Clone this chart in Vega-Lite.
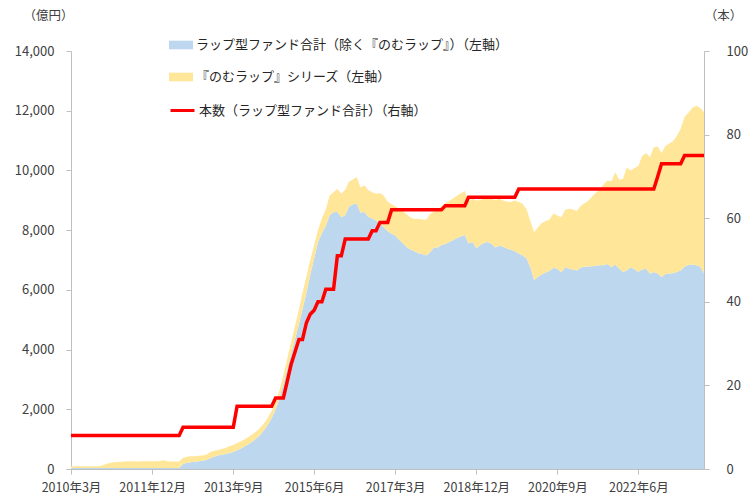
{
  "$schema": "https://vega.github.io/schema/vega-lite/v6.json",
  "description": "ラップ型ファンドの残高と本数の推移",
  "width": 633,
  "height": 418,
  "autosize": "none",
  "padding": {"left": 71, "top": 51, "right": 46, "bottom": 31},
  "config": {
    "font": "Noto Sans CJK JP",
    "view": {"stroke": null},
    "axis": {
      "grid": false,
      "domainColor": "#BFBFBF",
      "tickColor": "#BFBFBF",
      "labelColor": "#404040",
      "titleColor": "#404040",
      "labelFontSize": 13,
      "titleFontSize": 12.5,
      "titleFontWeight": "normal",
      "tickSize": 5
    },
    "legend": {"labelColor": "#262626", "labelFontSize": 13, "labelLimit": 600, "padding": 0}
  },
  "data": {
    "values": [
      {"d": "2010-03-01", "other": 30, "nomu": 60, "c": 8},
      {"d": "2010-04-01", "other": 30, "nomu": 60, "c": 8},
      {"d": "2010-05-01", "other": 30, "nomu": 60, "c": 8},
      {"d": "2010-06-01", "other": 30, "nomu": 60, "c": 8},
      {"d": "2010-07-01", "other": 30, "nomu": 60, "c": 8},
      {"d": "2010-08-01", "other": 30, "nomu": 60, "c": 8},
      {"d": "2010-09-01", "other": 30, "nomu": 60, "c": 8},
      {"d": "2010-10-01", "other": 30, "nomu": 65, "c": 8},
      {"d": "2010-11-01", "other": 30, "nomu": 90, "c": 8},
      {"d": "2010-12-01", "other": 30, "nomu": 140, "c": 8},
      {"d": "2011-01-01", "other": 30, "nomu": 170, "c": 8},
      {"d": "2011-02-01", "other": 30, "nomu": 195, "c": 8},
      {"d": "2011-03-01", "other": 30, "nomu": 205, "c": 8},
      {"d": "2011-04-01", "other": 30, "nomu": 215, "c": 8},
      {"d": "2011-05-01", "other": 30, "nomu": 220, "c": 8},
      {"d": "2011-06-01", "other": 30, "nomu": 230, "c": 8},
      {"d": "2011-07-01", "other": 30, "nomu": 230, "c": 8},
      {"d": "2011-08-01", "other": 30, "nomu": 225, "c": 8},
      {"d": "2011-09-01", "other": 30, "nomu": 230, "c": 8},
      {"d": "2011-10-01", "other": 30, "nomu": 230, "c": 8},
      {"d": "2011-11-01", "other": 30, "nomu": 228, "c": 8},
      {"d": "2011-12-01", "other": 30, "nomu": 232, "c": 8},
      {"d": "2012-01-01", "other": 30, "nomu": 230, "c": 8},
      {"d": "2012-02-01", "other": 30, "nomu": 235, "c": 8},
      {"d": "2012-03-01", "other": 30, "nomu": 260, "c": 8},
      {"d": "2012-04-01", "other": 30, "nomu": 230, "c": 8},
      {"d": "2012-05-01", "other": 30, "nomu": 220, "c": 8},
      {"d": "2012-06-01", "other": 30, "nomu": 220, "c": 8},
      {"d": "2012-07-01", "other": 30, "nomu": 220, "c": 8},
      {"d": "2012-08-01", "other": 170, "nomu": 205, "c": 10},
      {"d": "2012-09-01", "other": 210, "nomu": 200, "c": 10},
      {"d": "2012-10-01", "other": 230, "nomu": 195, "c": 10},
      {"d": "2012-11-01", "other": 240, "nomu": 190, "c": 10},
      {"d": "2012-12-01", "other": 260, "nomu": 180, "c": 10},
      {"d": "2013-01-01", "other": 280, "nomu": 170, "c": 10},
      {"d": "2013-02-01", "other": 300, "nomu": 180, "c": 10},
      {"d": "2013-03-01", "other": 360, "nomu": 200, "c": 10},
      {"d": "2013-04-01", "other": 410, "nomu": 200, "c": 10},
      {"d": "2013-05-01", "other": 450, "nomu": 190, "c": 10},
      {"d": "2013-06-01", "other": 480, "nomu": 190, "c": 10},
      {"d": "2013-07-01", "other": 505, "nomu": 195, "c": 10},
      {"d": "2013-08-01", "other": 540, "nomu": 220, "c": 10},
      {"d": "2013-09-01", "other": 570, "nomu": 230, "c": 10},
      {"d": "2013-10-01", "other": 630, "nomu": 240, "c": 15},
      {"d": "2013-11-01", "other": 690, "nomu": 240, "c": 15},
      {"d": "2013-12-01", "other": 760, "nomu": 240, "c": 15},
      {"d": "2014-01-01", "other": 840, "nomu": 240, "c": 15},
      {"d": "2014-02-01", "other": 920, "nomu": 240, "c": 15},
      {"d": "2014-03-01", "other": 1020, "nomu": 240, "c": 15},
      {"d": "2014-04-01", "other": 1140, "nomu": 240, "c": 15},
      {"d": "2014-05-01", "other": 1300, "nomu": 220, "c": 15},
      {"d": "2014-06-01", "other": 1480, "nomu": 240, "c": 15},
      {"d": "2014-07-01", "other": 1700, "nomu": 250, "c": 15},
      {"d": "2014-08-01", "other": 2000, "nomu": 250, "c": 17},
      {"d": "2014-09-01", "other": 2380, "nomu": 270, "c": 17},
      {"d": "2014-10-01", "other": 2850, "nomu": 300, "c": 17},
      {"d": "2014-11-01", "other": 3350, "nomu": 350, "c": 21},
      {"d": "2014-12-01", "other": 3850, "nomu": 400, "c": 25},
      {"d": "2015-01-01", "other": 4350, "nomu": 450, "c": 28},
      {"d": "2015-02-01", "other": 4850, "nomu": 500, "c": 31},
      {"d": "2015-03-01", "other": 5350, "nomu": 550, "c": 31},
      {"d": "2015-04-01", "other": 5900, "nomu": 550, "c": 35},
      {"d": "2015-05-01", "other": 6500, "nomu": 500, "c": 37},
      {"d": "2015-06-01", "other": 7050, "nomu": 450, "c": 38},
      {"d": "2015-07-01", "other": 7600, "nomu": 400, "c": 40},
      {"d": "2015-08-01", "other": 7900, "nomu": 500, "c": 40},
      {"d": "2015-09-01", "other": 8150, "nomu": 550, "c": 43},
      {"d": "2015-10-01", "other": 8500, "nomu": 650, "c": 43},
      {"d": "2015-11-01", "other": 8600, "nomu": 680, "c": 43},
      {"d": "2015-12-01", "other": 8620, "nomu": 760, "c": 51},
      {"d": "2016-01-01", "other": 8430, "nomu": 790, "c": 51},
      {"d": "2016-02-01", "other": 8500, "nomu": 850, "c": 55},
      {"d": "2016-03-01", "other": 8780, "nomu": 840, "c": 55},
      {"d": "2016-04-01", "other": 8870, "nomu": 830, "c": 55},
      {"d": "2016-05-01", "other": 8890, "nomu": 890, "c": 55},
      {"d": "2016-06-01", "other": 8580, "nomu": 850, "c": 55},
      {"d": "2016-07-01", "other": 8610, "nomu": 890, "c": 55},
      {"d": "2016-08-01", "other": 8440, "nomu": 900, "c": 55},
      {"d": "2016-09-01", "other": 8390, "nomu": 880, "c": 57},
      {"d": "2016-10-01", "other": 8320, "nomu": 900, "c": 57},
      {"d": "2016-11-01", "other": 8220, "nomu": 1020, "c": 59},
      {"d": "2016-12-01", "other": 8100, "nomu": 1050, "c": 59},
      {"d": "2017-01-01", "other": 7960, "nomu": 990, "c": 59},
      {"d": "2017-02-01", "other": 7880, "nomu": 990, "c": 62},
      {"d": "2017-03-01", "other": 7820, "nomu": 980, "c": 62},
      {"d": "2017-04-01", "other": 7680, "nomu": 1040, "c": 62},
      {"d": "2017-05-01", "other": 7560, "nomu": 1080, "c": 62},
      {"d": "2017-06-01", "other": 7430, "nomu": 1090, "c": 62},
      {"d": "2017-07-01", "other": 7350, "nomu": 1070, "c": 62},
      {"d": "2017-08-01", "other": 7290, "nomu": 1080, "c": 62},
      {"d": "2017-09-01", "other": 7230, "nomu": 1150, "c": 62},
      {"d": "2017-10-01", "other": 7200, "nomu": 1160, "c": 62},
      {"d": "2017-11-01", "other": 7150, "nomu": 1200, "c": 62},
      {"d": "2017-12-01", "other": 7260, "nomu": 1280, "c": 62},
      {"d": "2018-01-01", "other": 7420, "nomu": 1200, "c": 62},
      {"d": "2018-02-01", "other": 7420, "nomu": 1260, "c": 62},
      {"d": "2018-03-01", "other": 7500, "nomu": 1300, "c": 62},
      {"d": "2018-04-01", "other": 7540, "nomu": 1360, "c": 63},
      {"d": "2018-05-01", "other": 7600, "nomu": 1380, "c": 63},
      {"d": "2018-06-01", "other": 7660, "nomu": 1400, "c": 63},
      {"d": "2018-07-01", "other": 7740, "nomu": 1410, "c": 63},
      {"d": "2018-08-01", "other": 7790, "nomu": 1440, "c": 63},
      {"d": "2018-09-01", "other": 7840, "nomu": 1470, "c": 63},
      {"d": "2018-10-01", "other": 7550, "nomu": 1400, "c": 65},
      {"d": "2018-11-01", "other": 7600, "nomu": 1450, "c": 65},
      {"d": "2018-12-01", "other": 7390, "nomu": 1600, "c": 65},
      {"d": "2019-01-01", "other": 7490, "nomu": 1520, "c": 65},
      {"d": "2019-02-01", "other": 7580, "nomu": 1480, "c": 65},
      {"d": "2019-03-01", "other": 7600, "nomu": 1510, "c": 65},
      {"d": "2019-04-01", "other": 7540, "nomu": 1510, "c": 65},
      {"d": "2019-05-01", "other": 7420, "nomu": 1580, "c": 65},
      {"d": "2019-06-01", "other": 7480, "nomu": 1570, "c": 65},
      {"d": "2019-07-01", "other": 7440, "nomu": 1550, "c": 65},
      {"d": "2019-08-01", "other": 7380, "nomu": 1570, "c": 65},
      {"d": "2019-09-01", "other": 7340, "nomu": 1600, "c": 65},
      {"d": "2019-10-01", "other": 7290, "nomu": 1700, "c": 65},
      {"d": "2019-11-01", "other": 7220, "nomu": 1720, "c": 67},
      {"d": "2019-12-01", "other": 7150, "nomu": 1730, "c": 67},
      {"d": "2020-01-01", "other": 7060, "nomu": 1640, "c": 67},
      {"d": "2020-02-01", "other": 6750, "nomu": 1550, "c": 67},
      {"d": "2020-03-01", "other": 6320, "nomu": 1610, "c": 67},
      {"d": "2020-04-01", "other": 6440, "nomu": 1660, "c": 67},
      {"d": "2020-05-01", "other": 6520, "nomu": 1720, "c": 67},
      {"d": "2020-06-01", "other": 6580, "nomu": 1730, "c": 67},
      {"d": "2020-07-01", "other": 6640, "nomu": 1720, "c": 67},
      {"d": "2020-08-01", "other": 6740, "nomu": 1820, "c": 67},
      {"d": "2020-09-01", "other": 6700, "nomu": 1790, "c": 67},
      {"d": "2020-10-01", "other": 6590, "nomu": 1840, "c": 67},
      {"d": "2020-11-01", "other": 6760, "nomu": 1920, "c": 67},
      {"d": "2020-12-01", "other": 6710, "nomu": 2010, "c": 67},
      {"d": "2021-01-01", "other": 6680, "nomu": 2010, "c": 67},
      {"d": "2021-02-01", "other": 6650, "nomu": 1990, "c": 67},
      {"d": "2021-03-01", "other": 6740, "nomu": 2060, "c": 67},
      {"d": "2021-04-01", "other": 6770, "nomu": 2130, "c": 67},
      {"d": "2021-05-01", "other": 6780, "nomu": 2200, "c": 67},
      {"d": "2021-06-01", "other": 6790, "nomu": 2330, "c": 67},
      {"d": "2021-07-01", "other": 6810, "nomu": 2440, "c": 67},
      {"d": "2021-08-01", "other": 6820, "nomu": 2560, "c": 67},
      {"d": "2021-09-01", "other": 6820, "nomu": 2720, "c": 67},
      {"d": "2021-10-01", "other": 6870, "nomu": 2790, "c": 67},
      {"d": "2021-11-01", "other": 6760, "nomu": 2880, "c": 67},
      {"d": "2021-12-01", "other": 6850, "nomu": 3090, "c": 67},
      {"d": "2022-01-01", "other": 6710, "nomu": 2980, "c": 67},
      {"d": "2022-02-01", "other": 6600, "nomu": 3120, "c": 67},
      {"d": "2022-03-01", "other": 6650, "nomu": 3450, "c": 67},
      {"d": "2022-04-01", "other": 6760, "nomu": 3240, "c": 67},
      {"d": "2022-05-01", "other": 6690, "nomu": 3390, "c": 67},
      {"d": "2022-06-01", "other": 6610, "nomu": 3540, "c": 67},
      {"d": "2022-07-01", "other": 6680, "nomu": 3800, "c": 67},
      {"d": "2022-08-01", "other": 6710, "nomu": 3870, "c": 67},
      {"d": "2022-09-01", "other": 6540, "nomu": 3900, "c": 67},
      {"d": "2022-10-01", "other": 6600, "nomu": 4180, "c": 67},
      {"d": "2022-11-01", "other": 6550, "nomu": 4250, "c": 70},
      {"d": "2022-12-01", "other": 6430, "nomu": 4150, "c": 73},
      {"d": "2023-01-01", "other": 6530, "nomu": 4300, "c": 73},
      {"d": "2023-02-01", "other": 6550, "nomu": 4350, "c": 73},
      {"d": "2023-03-01", "other": 6560, "nomu": 4420, "c": 73},
      {"d": "2023-04-01", "other": 6600, "nomu": 4550, "c": 73},
      {"d": "2023-05-01", "other": 6650, "nomu": 4750, "c": 73},
      {"d": "2023-06-01", "other": 6780, "nomu": 5020, "c": 75},
      {"d": "2023-07-01", "other": 6830, "nomu": 5090, "c": 75},
      {"d": "2023-08-01", "other": 6850, "nomu": 5250, "c": 75},
      {"d": "2023-09-01", "other": 6820, "nomu": 5350, "c": 75},
      {"d": "2023-10-01", "other": 6780, "nomu": 5320, "c": 75},
      {"d": "2023-11-01", "other": 6560, "nomu": 5390, "c": 75}
    ]
  },
  "layer": [
    {
      "transform": [{"fold": ["other", "nomu"], "as": ["key", "value"]}],
      "mark": {"type": "area", "interpolate": "linear"},
      "encoding": {
        "x": {
          "field": "d",
          "type": "temporal",
          "scale": {
            "type": "utc",
            "nice": false,
            "domain": [
              {"year": 2010, "month": 3, "date": 1, "utc": true},
              {"year": 2023, "month": 11, "date": 1, "utc": true}
            ]
          },
          "axis": {
            "title": null,
            "values": [
              {"year": 2010, "month": 3, "date": 1, "utc": true},
              {"year": 2011, "month": 12, "date": 1, "utc": true},
              {"year": 2013, "month": 9, "date": 1, "utc": true},
              {"year": 2015, "month": 6, "date": 1, "utc": true},
              {"year": 2017, "month": 3, "date": 1, "utc": true},
              {"year": 2018, "month": 12, "date": 1, "utc": true},
              {"year": 2020, "month": 9, "date": 1, "utc": true},
              {"year": 2022, "month": 6, "date": 1, "utc": true}
            ],
            "labelExpr": "utcFormat(datum.value, '%Y年%-m月')",
            "labelFontSize": 12.5,
            "labelPadding": 7,
            "labelFlush": false,
            "labelOverlap": false
          }
        },
        "y": {
          "field": "value",
          "type": "quantitative",
          "stack": "zero",
          "scale": {"domain": [0, 14000], "nice": false},
          "axis": {
            "title": "（億円）",
            "titleAngle": 0,
            "titleX": -23,
            "titleY": -36,
            "titleAlign": "center",
            "titleBaseline": "middle",
            "values": [0, 2000, 4000, 6000, 8000, 10000, 12000, 14000],
            "format": ",.0f",
            "labelPadding": 12
          }
        },
        "color": {
          "field": "key",
          "type": "nominal",
          "scale": {"domain": ["other", "nomu"], "range": ["#BDD7EE", "#FFE699"]},
          "legend": {
            "title": null,
            "orient": "none",
            "legendX": 98,
            "legendY": -18,
            "direction": "vertical",
            "symbolType": "M-1,-0.36H1V0.36H-1Z",
            "symbolSize": 576,
            "symbolStrokeWidth": 0,
            "symbolOpacity": 1,
            "rowPadding": 13,
            "labelOffset": 3,
            "labelExpr": "datum.label == 'other' ? 'ラップ型ファンド合計（除く『のむラップ』）（左軸）' : '『のむラップ』シリーズ（左軸）'"
          }
        },
        "order": {"field": "key", "sort": "descending"}
      }
    },
    {
      "mark": {"type": "line", "strokeWidth": 3.5, "interpolate": "linear"},
      "encoding": {
        "x": {"field": "d", "type": "temporal"},
        "y": {
          "field": "c",
          "type": "quantitative",
          "scale": {"domain": [0, 100], "nice": false},
          "axis": {
            "orient": "right",
            "title": "（本）",
            "titleAngle": 0,
            "titleX": 19,
            "titleY": -36,
            "titleAlign": "center",
            "titleBaseline": "middle",
            "values": [0, 20, 40, 60, 80, 100],
            "labelPadding": 17
          }
        },
        "stroke": {
          "datum": "本数（ラップ型ファンド合計）（右軸）",
          "type": "nominal",
          "scale": {"range": ["#FF0000"]},
          "legend": {
            "title": null,
            "orient": "none",
            "legendX": 98,
            "legendY": 46,
            "symbolType": "stroke",
            "symbolSize": 576,
            "symbolStrokeWidth": 3,
            "labelOffset": 3
          }
        }
      }
    }
  ],
  "resolve": {"scale": {"y": "independent"}}
}
